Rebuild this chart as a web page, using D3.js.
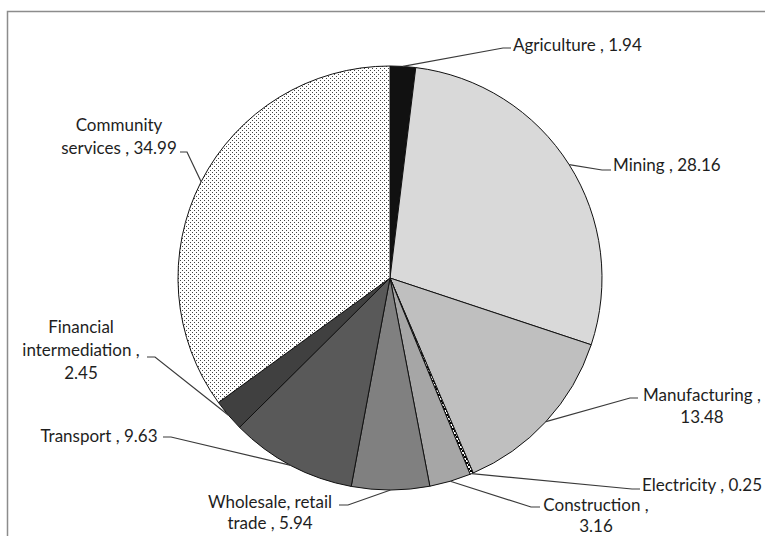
<!DOCTYPE html>
<html>
<head>
<meta charset="utf-8">
<script src="https://cdn.jsdelivr.net/npm/d3@7/dist/d3.min.js"></script>
<style>
  html, body { margin: 0; padding: 0; background: #fff; }
  svg { display: block; }
  text { font-family: Lato, "Open Sans", sans-serif; font-size: 17px; fill: #1e1e1e; }
</style>
</head>
<body>
<svg id="chart" width="765" height="536"></svg>
<script>
// ---- data ----
const categories = ["Agriculture", "Mining", "Manufacturing", "Electricity", "Construction",
  "Wholesale, retail trade", "Transport", "Financial intermediation", "Community services"];
const values = [1.94, 28.16, 13.48, 0.25, 3.16, 5.94, 9.63, 2.45, 34.99];
const labelLines = [
  ["Agriculture , 1.94"],
  ["Mining , 28.16"],
  ["Manufacturing ,", "13.48"],
  ["Electricity , 0.25"],
  ["Construction ,", "3.16"],
  ["Wholesale, retail", "trade , 5.94"],
  ["Transport , 9.63"],
  ["Financial", "intermediation ,", "2.45"],
  ["Community", "services , 34.99"]
];

// ---- styling / layout ----
const fills = ["#111111", "#d9d9d9", "#bfbfbf", "url(#hatch)", "#a6a6a6",
  "#808080", "#595959", "#404040", "url(#dots)"];
// label layout: text x, first-line y, anchor, line height, leader elbow and leader end
const labelLayout = [
  { x: 513, y: 45, anchor: "start", lh: 22, elbow: [503, 48], end: [511, 48] },
  { x: 613, y: 165, anchor: "start", lh: 22, elbow: [602, 170], end: [611, 170] },
  { x: 702, y: 395, anchor: "middle", lh: 22, elbow: [630, 398], end: [638, 398] },
  { x: 642, y: 485, anchor: "start", lh: 22, elbow: [632, 489], end: [640, 489] },
  { x: 596, y: 505, anchor: "middle", lh: 21, elbow: [531, 507], end: [540, 507] },
  { x: 270, y: 502, anchor: "middle", lh: 21, elbow: [348, 505], end: [339, 505] },
  { x: 99, y: 436, anchor: "middle", lh: 22, elbow: [171, 437], end: [163, 437] },
  { x: 81, y: 327, anchor: "middle", lh: 23, elbow: [155, 357], end: [147, 357] },
  { x: 119, y: 125, anchor: "middle", lh: 23, elbow: [187, 152], end: [180, 152] }
];

const svg = d3.select("#chart");
const defs = svg.append("defs");
const dots = defs.append("pattern").attr("id", "dots").attr("patternUnits", "userSpaceOnUse")
  .attr("width", 4).attr("height", 4);
dots.append("rect").attr("width", 4).attr("height", 4).attr("fill", "#fff");
dots.append("rect").attr("x", 0).attr("y", 0).attr("width", 1).attr("height", 1).attr("fill", "#444");
dots.append("rect").attr("x", 2).attr("y", 2).attr("width", 1).attr("height", 1).attr("fill", "#444");
const hatch = defs.append("pattern").attr("id", "hatch").attr("patternUnits", "userSpaceOnUse")
  .attr("width", 4).attr("height", 4);
hatch.append("rect").attr("width", 4).attr("height", 4).attr("fill", "#fff");
hatch.append("rect").attr("x", 0).attr("y", 0).attr("width", 2).attr("height", 2).attr("fill", "#000");
hatch.append("rect").attr("x", 2).attr("y", 2).attr("width", 2).attr("height", 2).attr("fill", "#000");

// outer border
svg.append("rect").attr("x", 7.5).attr("y", 11.5).attr("width", 800).attr("height", 600)
  .attr("fill", "none").attr("stroke", "#8c8c8c").attr("stroke-width", 1.5);

const cx = 390, cy = 278, R = 212;
const pie = d3.pie().sort(null).value(d => d.v).startAngle(0).endAngle(2 * Math.PI);
const arcs = pie(categories.map((c, i) => ({ c, v: values[i], i })));
const arc = d3.arc().innerRadius(0).outerRadius(R);

const g = svg.append("g").attr("transform", `translate(${cx},${cy})`);
g.selectAll("path.slice").data(arcs).join("path")
  .attr("class", "slice")
  .attr("d", arc)
  .attr("fill", d => fills[d.data.i])
  .attr("stroke", "#111")
  .attr("stroke-width", 1)
  .attr("stroke-linejoin", "round");

// leaders
const leaders = svg.append("g");
arcs.forEach(d => {
  const i = d.data.i, L = labelLayout[i];
  const a = (d.startAngle + d.endAngle) / 2;
  const p = [cx + R * Math.sin(a), cy - R * Math.cos(a)];
  leaders.append("polyline")
    .attr("points", [p, L.elbow, L.end].map(q => q.join(",")).join(" "))
    .attr("fill", "none").attr("stroke", "#3a3a3a").attr("stroke-width", 1.2);
});

// labels
const labels = svg.append("g");
categories.forEach((c, i) => {
  const L = labelLayout[i];
  const t = labels.append("text").attr("text-anchor", L.anchor);
  labelLines[i].forEach((s, k) => {
    t.append("tspan").attr("x", L.x).attr("y", L.y + k * L.lh)
      .attr("dy", "0.35em").text(s);
  });
});
</script>
</body>
</html>
